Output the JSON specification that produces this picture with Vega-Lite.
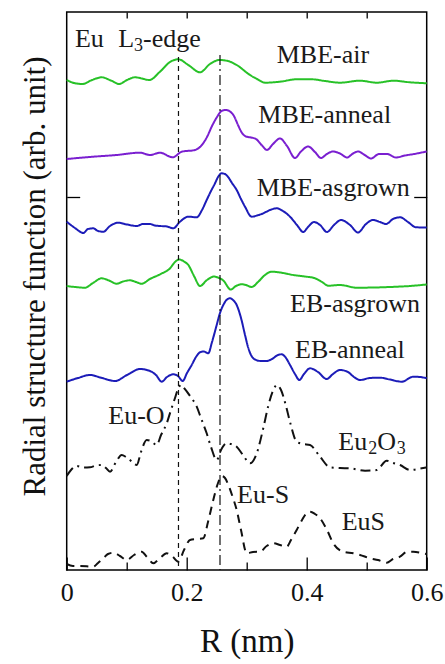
{
  "$schema": "https://vega.github.io/schema/vega-lite/v6.json",
  "width": 360,
  "height": 558,
  "autosize": {"type": "none"},
  "padding": {"left": 66.7, "top": 12, "right": 18.3, "bottom": 94},
  "background": "white",
  "config": {
    "view": {"stroke": "black", "strokeWidth": 1.5},
    "axis": {"grid": false, "domain": false, "tickColor": "black", "tickWidth": 1.3, "labelFont": "Liberation Serif, Tinos, Nimbus Roman, FreeSerif, DejaVu Serif, Noto Serif, serif", "titleFont": "Liberation Serif, Tinos, Nimbus Roman, FreeSerif, DejaVu Serif, Noto Serif, serif", "labelColor": "#111", "titleColor": "#111", "titleFontWeight": "normal"}
  },
  "datasets": {
    "curves": [
      {"s":"MBE-air","R":0,"v":490},{"s":"MBE-air","R":0.0122,"v":487},{"s":"MBE-air","R":0.0267,"v":486},{"s":"MBE-air","R":0.0422,"v":490},{"s":"MBE-air","R":0.0583,"v":492.7},{"s":"MBE-air","R":0.0738,"v":489.5},{"s":"MBE-air","R":0.0877,"v":486},{"s":"MBE-air","R":0.1005,"v":490},{"s":"MBE-air","R":0.1138,"v":492.7},{"s":"MBE-air","R":0.1255,"v":491.5},{"s":"MBE-air","R":0.1377,"v":490},{"s":"MBE-air","R":0.1555,"v":498.3},{"s":"MBE-air","R":0.1722,"v":508},{"s":"MBE-air","R":0.186,"v":510.7},{"s":"MBE-air","R":0.2027,"v":505},{"s":"MBE-air","R":0.2222,"v":497.7},{"s":"MBE-air","R":0.2388,"v":506},{"s":"MBE-air","R":0.2543,"v":510},{"s":"MBE-air","R":0.2688,"v":509},{"s":"MBE-air","R":0.2833,"v":505},{"s":"MBE-air","R":0.3055,"v":495},{"s":"MBE-air","R":0.3172,"v":491},{"s":"MBE-air","R":0.3305,"v":487.3},{"s":"MBE-air","R":0.3555,"v":488.3},{"s":"MBE-air","R":0.3833,"v":490.7},{"s":"MBE-air","R":0.4083,"v":490.7},{"s":"MBE-air","R":0.4305,"v":489},{"s":"MBE-air","R":0.4555,"v":487.3},{"s":"MBE-air","R":0.4888,"v":489.3},{"s":"MBE-air","R":0.5167,"v":487.3},{"s":"MBE-air","R":0.5443,"v":489.3},{"s":"MBE-air","R":0.5722,"v":487.7},{"s":"MBE-air","R":0.6,"v":486.7},

      {"s":"MBE-anneal","R":0,"v":411},{"s":"MBE-anneal","R":0.0443,"v":413.3},{"s":"MBE-anneal","R":0.0833,"v":415},{"s":"MBE-anneal","R":0.1222,"v":417.3},{"s":"MBE-anneal","R":0.1388,"v":415},{"s":"MBE-anneal","R":0.1555,"v":417.3},{"s":"MBE-anneal","R":0.1767,"v":412.7},{"s":"MBE-anneal","R":0.1917,"v":418.3},{"s":"MBE-anneal","R":0.2138,"v":420},{"s":"MBE-anneal","R":0.2238,"v":424},{"s":"MBE-anneal","R":0.2338,"v":433},{"s":"MBE-anneal","R":0.2422,"v":444},{"s":"MBE-anneal","R":0.2505,"v":453},{"s":"MBE-anneal","R":0.258,"v":459},{"s":"MBE-anneal","R":0.2655,"v":460},{"s":"MBE-anneal","R":0.2722,"v":458.5},{"s":"MBE-anneal","R":0.2788,"v":454},{"s":"MBE-anneal","R":0.2855,"v":445},{"s":"MBE-anneal","R":0.2922,"v":437},{"s":"MBE-anneal","R":0.2988,"v":433.5},{"s":"MBE-anneal","R":0.3072,"v":432.5},{"s":"MBE-anneal","R":0.3155,"v":431},{"s":"MBE-anneal","R":0.3255,"v":424.5},{"s":"MBE-anneal","R":0.3338,"v":420},{"s":"MBE-anneal","R":0.3438,"v":426},{"s":"MBE-anneal","R":0.3555,"v":431.5},{"s":"MBE-anneal","R":0.3672,"v":424},{"s":"MBE-anneal","R":0.3805,"v":412},{"s":"MBE-anneal","R":0.3905,"v":418.5},{"s":"MBE-anneal","R":0.4022,"v":423.5},{"s":"MBE-anneal","R":0.4138,"v":418},{"s":"MBE-anneal","R":0.4238,"v":412},{"s":"MBE-anneal","R":0.4338,"v":416},{"s":"MBE-anneal","R":0.4438,"v":418.5},{"s":"MBE-anneal","R":0.4555,"v":416.5},{"s":"MBE-anneal","R":0.4672,"v":412.5},{"s":"MBE-anneal","R":0.4772,"v":416.5},{"s":"MBE-anneal","R":0.4855,"v":418.5},{"s":"MBE-anneal","R":0.4955,"v":415.5},{"s":"MBE-anneal","R":0.5072,"v":411.5},{"s":"MBE-anneal","R":0.5205,"v":416},{"s":"MBE-anneal","R":0.5338,"v":416},{"s":"MBE-anneal","R":0.5488,"v":412.5},{"s":"MBE-anneal","R":0.5638,"v":414.5},{"s":"MBE-anneal","R":0.5788,"v":416},{"s":"MBE-anneal","R":0.6,"v":418.5},

      {"s":"MBE-asgrown","R":0,"v":348.3},{"s":"MBE-asgrown","R":0.0138,"v":342},{"s":"MBE-asgrown","R":0.0277,"v":337},{"s":"MBE-asgrown","R":0.0355,"v":341},{"s":"MBE-asgrown","R":0.0443,"v":341.7},{"s":"MBE-asgrown","R":0.0522,"v":339},{"s":"MBE-asgrown","R":0.061,"v":338.3},{"s":"MBE-asgrown","R":0.0722,"v":344},{"s":"MBE-asgrown","R":0.086,"v":347.3},{"s":"MBE-asgrown","R":0.1005,"v":345.5},{"s":"MBE-asgrown","R":0.1167,"v":344},{"s":"MBE-asgrown","R":0.1272,"v":346},{"s":"MBE-asgrown","R":0.1388,"v":346},{"s":"MBE-asgrown","R":0.1472,"v":344.5},{"s":"MBE-asgrown","R":0.1555,"v":344},{"s":"MBE-asgrown","R":0.1672,"v":343.5},{"s":"MBE-asgrown","R":0.1777,"v":341.7},{"s":"MBE-asgrown","R":0.1888,"v":348.3},{"s":"MBE-asgrown","R":0.2027,"v":353.3},{"s":"MBE-asgrown","R":0.2167,"v":352.7},{"s":"MBE-asgrown","R":0.2255,"v":360},{"s":"MBE-asgrown","R":0.2333,"v":370},{"s":"MBE-asgrown","R":0.2405,"v":379},{"s":"MBE-asgrown","R":0.2472,"v":386.7},{"s":"MBE-asgrown","R":0.2522,"v":393},{"s":"MBE-asgrown","R":0.2583,"v":396.7},{"s":"MBE-asgrown","R":0.2638,"v":396},{"s":"MBE-asgrown","R":0.2693,"v":392.7},{"s":"MBE-asgrown","R":0.2755,"v":387},{"s":"MBE-asgrown","R":0.2833,"v":380},{"s":"MBE-asgrown","R":0.2905,"v":371},{"s":"MBE-asgrown","R":0.2972,"v":363.3},{"s":"MBE-asgrown","R":0.3083,"v":353.3},{"s":"MBE-asgrown","R":0.3172,"v":354.5},{"s":"MBE-asgrown","R":0.3277,"v":356.7},{"s":"MBE-asgrown","R":0.3388,"v":360},{"s":"MBE-asgrown","R":0.35,"v":361.7},{"s":"MBE-asgrown","R":0.3605,"v":359},{"s":"MBE-asgrown","R":0.3722,"v":353.3},{"s":"MBE-asgrown","R":0.3838,"v":345},{"s":"MBE-asgrown","R":0.3943,"v":338},{"s":"MBE-asgrown","R":0.4022,"v":343},{"s":"MBE-asgrown","R":0.4122,"v":348},{"s":"MBE-asgrown","R":0.4222,"v":345},{"s":"MBE-asgrown","R":0.4338,"v":338},{"s":"MBE-asgrown","R":0.4455,"v":345},{"s":"MBE-asgrown","R":0.4572,"v":350},{"s":"MBE-asgrown","R":0.4722,"v":345},{"s":"MBE-asgrown","R":0.4855,"v":337.5},{"s":"MBE-asgrown","R":0.4988,"v":346},{"s":"MBE-asgrown","R":0.5105,"v":350},{"s":"MBE-asgrown","R":0.5222,"v":348},{"s":"MBE-asgrown","R":0.5322,"v":346},{"s":"MBE-asgrown","R":0.5438,"v":351},{"s":"MBE-asgrown","R":0.5555,"v":352.7},{"s":"MBE-asgrown","R":0.5688,"v":348},{"s":"MBE-asgrown","R":0.5822,"v":342.7},{"s":"MBE-asgrown","R":0.6,"v":342.5},

      {"s":"EB-asgrown","R":0,"v":284},{"s":"EB-asgrown","R":0.0138,"v":283},{"s":"EB-asgrown","R":0.0305,"v":282.3},{"s":"EB-asgrown","R":0.0438,"v":287},{"s":"EB-asgrown","R":0.0583,"v":291.7},{"s":"EB-asgrown","R":0.0705,"v":289.5},{"s":"EB-asgrown","R":0.0833,"v":286.3},{"s":"EB-asgrown","R":0.0938,"v":288.5},{"s":"EB-asgrown","R":0.1055,"v":289.7},{"s":"EB-asgrown","R":0.1155,"v":288},{"s":"EB-asgrown","R":0.125,"v":286.3},{"s":"EB-asgrown","R":0.1388,"v":291},{"s":"EB-asgrown","R":0.1555,"v":295.7},{"s":"EB-asgrown","R":0.1722,"v":301.7},{"s":"EB-asgrown","R":0.1805,"v":308},{"s":"EB-asgrown","R":0.1877,"v":310.5},{"s":"EB-asgrown","R":0.1955,"v":308.5},{"s":"EB-asgrown","R":0.2027,"v":305},{"s":"EB-asgrown","R":0.2122,"v":294},{"s":"EB-asgrown","R":0.2222,"v":284},{"s":"EB-asgrown","R":0.2338,"v":290},{"s":"EB-asgrown","R":0.2455,"v":293.5},{"s":"EB-asgrown","R":0.2538,"v":292},{"s":"EB-asgrown","R":0.261,"v":289.5},{"s":"EB-asgrown","R":0.2733,"v":280.5},{"s":"EB-asgrown","R":0.2822,"v":284},{"s":"EB-asgrown","R":0.2917,"v":285.7},{"s":"EB-asgrown","R":0.2988,"v":285},{"s":"EB-asgrown","R":0.3083,"v":283},{"s":"EB-asgrown","R":0.3188,"v":288},{"s":"EB-asgrown","R":0.3305,"v":295},{"s":"EB-asgrown","R":0.3417,"v":298.3},{"s":"EB-asgrown","R":0.3555,"v":297.5},{"s":"EB-asgrown","R":0.3777,"v":295},{"s":"EB-asgrown","R":0.3972,"v":293.5},{"s":"EB-asgrown","R":0.4138,"v":291.7},{"s":"EB-asgrown","R":0.4255,"v":288},{"s":"EB-asgrown","R":0.436,"v":284.3},{"s":"EB-asgrown","R":0.4555,"v":285},{"s":"EB-asgrown","R":0.4833,"v":282.3},{"s":"EB-asgrown","R":0.5138,"v":282.5},{"s":"EB-asgrown","R":0.5388,"v":283},{"s":"EB-asgrown","R":0.5722,"v":284},{"s":"EB-asgrown","R":0.6,"v":285.5},

      {"s":"EB-anneal","R":0,"v":188.3},{"s":"EB-anneal","R":0.0188,"v":192},{"s":"EB-anneal","R":0.0388,"v":195},{"s":"EB-anneal","R":0.0588,"v":192},{"s":"EB-anneal","R":0.0805,"v":189},{"s":"EB-anneal","R":0.1005,"v":195},{"s":"EB-anneal","R":0.1222,"v":201},{"s":"EB-anneal","R":0.1388,"v":199},{"s":"EB-anneal","R":0.1488,"v":195},{"s":"EB-anneal","R":0.1583,"v":188.3},{"s":"EB-anneal","R":0.1672,"v":193},{"s":"EB-anneal","R":0.1777,"v":195.7},{"s":"EB-anneal","R":0.1855,"v":194},{"s":"EB-anneal","R":0.1933,"v":189},{"s":"EB-anneal","R":0.2005,"v":197},{"s":"EB-anneal","R":0.2083,"v":205},{"s":"EB-anneal","R":0.2155,"v":213},{"s":"EB-anneal","R":0.2222,"v":217.7},{"s":"EB-anneal","R":0.2288,"v":218.5},{"s":"EB-anneal","R":0.236,"v":216.7},{"s":"EB-anneal","R":0.2422,"v":228},{"s":"EB-anneal","R":0.25,"v":245},{"s":"EB-anneal","R":0.2555,"v":257},{"s":"EB-anneal","R":0.261,"v":265},{"s":"EB-anneal","R":0.2672,"v":270.5},{"s":"EB-anneal","R":0.2722,"v":271.7},{"s":"EB-anneal","R":0.2772,"v":270},{"s":"EB-anneal","R":0.2833,"v":265},{"s":"EB-anneal","R":0.2905,"v":252},{"s":"EB-anneal","R":0.2972,"v":235},{"s":"EB-anneal","R":0.3022,"v":223},{"s":"EB-anneal","R":0.3072,"v":215},{"s":"EB-anneal","R":0.3138,"v":210.5},{"s":"EB-anneal","R":0.3238,"v":209},{"s":"EB-anneal","R":0.3333,"v":209},{"s":"EB-anneal","R":0.3422,"v":211},{"s":"EB-anneal","R":0.3522,"v":215},{"s":"EB-anneal","R":0.3583,"v":215.7},{"s":"EB-anneal","R":0.3655,"v":212},{"s":"EB-anneal","R":0.3722,"v":205},{"s":"EB-anneal","R":0.3805,"v":196},{"s":"EB-anneal","R":0.3877,"v":190},{"s":"EB-anneal","R":0.3955,"v":196},{"s":"EB-anneal","R":0.4055,"v":201.7},{"s":"EB-anneal","R":0.4188,"v":198},{"s":"EB-anneal","R":0.4333,"v":191},{"s":"EB-anneal","R":0.4438,"v":196},{"s":"EB-anneal","R":0.4555,"v":200},{"s":"EB-anneal","R":0.4688,"v":198},{"s":"EB-anneal","R":0.4788,"v":193},{"s":"EB-anneal","R":0.4888,"v":190},{"s":"EB-anneal","R":0.5055,"v":192},{"s":"EB-anneal","R":0.5222,"v":192.3},{"s":"EB-anneal","R":0.5388,"v":190.5},{"s":"EB-anneal","R":0.5583,"v":188.3},{"s":"EB-anneal","R":0.5777,"v":193.3},{"s":"EB-anneal","R":0.5888,"v":193},{"s":"EB-anneal","R":0.6,"v":191.7},

      {"s":"Eu2O3","R":0,"v":94},{"s":"Eu2O3","R":0.0072,"v":100},{"s":"Eu2O3","R":0.0167,"v":104},{"s":"Eu2O3","R":0.0272,"v":102.5},{"s":"Eu2O3","R":0.0388,"v":102.7},{"s":"Eu2O3","R":0.0488,"v":104.5},{"s":"Eu2O3","R":0.0583,"v":105},{"s":"Eu2O3","R":0.0655,"v":102},{"s":"Eu2O3","R":0.0722,"v":98.3},{"s":"Eu2O3","R":0.0822,"v":108},{"s":"Eu2O3","R":0.0917,"v":115},{"s":"Eu2O3","R":0.0988,"v":113},{"s":"Eu2O3","R":0.1055,"v":110},{"s":"Eu2O3","R":0.1105,"v":107},{"s":"Eu2O3","R":0.1167,"v":105},{"s":"Eu2O3","R":0.1238,"v":118},{"s":"Eu2O3","R":0.1333,"v":130},{"s":"Eu2O3","R":0.1405,"v":129},{"s":"Eu2O3","R":0.15,"v":125},{"s":"Eu2O3","R":0.1572,"v":135},{"s":"Eu2O3","R":0.1667,"v":146.7},{"s":"Eu2O3","R":0.1738,"v":160},{"s":"Eu2O3","R":0.1805,"v":172},{"s":"Eu2O3","R":0.1855,"v":181},{"s":"Eu2O3","R":0.1905,"v":185},{"s":"Eu2O3","R":0.1955,"v":182},{"s":"Eu2O3","R":0.2055,"v":174},{"s":"Eu2O3","R":0.2167,"v":163.3},{"s":"Eu2O3","R":0.2238,"v":152},{"s":"Eu2O3","R":0.2333,"v":136.7},{"s":"Eu2O3","R":0.2405,"v":123},{"s":"Eu2O3","R":0.25,"v":110},{"s":"Eu2O3","R":0.2572,"v":120},{"s":"Eu2O3","R":0.2667,"v":126.7},{"s":"Eu2O3","R":0.2738,"v":126},{"s":"Eu2O3","R":0.2833,"v":123.3},{"s":"Eu2O3","R":0.2938,"v":115},{"s":"Eu2O3","R":0.3055,"v":106.7},{"s":"Eu2O3","R":0.3167,"v":116.7},{"s":"Eu2O3","R":0.3277,"v":142},{"s":"Eu2O3","R":0.3355,"v":163},{"s":"Eu2O3","R":0.3443,"v":180},{"s":"Eu2O3","R":0.3505,"v":185},{"s":"Eu2O3","R":0.3572,"v":180},{"s":"Eu2O3","R":0.3655,"v":164},{"s":"Eu2O3","R":0.3722,"v":148},{"s":"Eu2O3","R":0.3833,"v":128.3},{"s":"Eu2O3","R":0.3938,"v":126},{"s":"Eu2O3","R":0.4055,"v":125},{"s":"Eu2O3","R":0.4222,"v":113.3},{"s":"Eu2O3","R":0.4388,"v":102.7},{"s":"Eu2O3","R":0.4555,"v":102},{"s":"Eu2O3","R":0.4722,"v":101.7},{"s":"Eu2O3","R":0.4972,"v":99.3},{"s":"Eu2O3","R":0.5167,"v":100},{"s":"Eu2O3","R":0.5333,"v":109.3},{"s":"Eu2O3","R":0.5438,"v":107},{"s":"Eu2O3","R":0.5555,"v":105},{"s":"Eu2O3","R":0.5722,"v":100},{"s":"Eu2O3","R":0.5917,"v":101.7},{"s":"Eu2O3","R":0.6,"v":102.5},

      {"s":"EuS","R":0,"v":6},{"s":"EuS","R":0.0105,"v":4},{"s":"EuS","R":0.0222,"v":4},{"s":"EuS","R":0.0443,"v":3.3},{"s":"EuS","R":0.0522,"v":7},{"s":"EuS","R":0.061,"v":11.7},{"s":"EuS","R":0.0688,"v":16},{"s":"EuS","R":0.0777,"v":17.3},{"s":"EuS","R":0.0888,"v":14},{"s":"EuS","R":0.1,"v":10},{"s":"EuS","R":0.1122,"v":15},{"s":"EuS","R":0.125,"v":18.3},{"s":"EuS","R":0.1338,"v":13},{"s":"EuS","R":0.1443,"v":6.7},{"s":"EuS","R":0.1555,"v":12},{"s":"EuS","R":0.1667,"v":16.7},{"s":"EuS","R":0.1755,"v":14},{"s":"EuS","R":0.186,"v":8.3},{"s":"EuS","R":0.1955,"v":20},{"s":"EuS","R":0.2055,"v":30},{"s":"EuS","R":0.2172,"v":31},{"s":"EuS","R":0.2277,"v":31.7},{"s":"EuS","R":0.2355,"v":48},{"s":"EuS","R":0.2443,"v":70},{"s":"EuS","R":0.2522,"v":87},{"s":"EuS","R":0.2583,"v":94},{"s":"EuS","R":0.2638,"v":92},{"s":"EuS","R":0.2688,"v":86},{"s":"EuS","R":0.2755,"v":75},{"s":"EuS","R":0.2833,"v":60},{"s":"EuS","R":0.2905,"v":40},{"s":"EuS","R":0.3,"v":16.7},{"s":"EuS","R":0.3105,"v":18},{"s":"EuS","R":0.3222,"v":18.3},{"s":"EuS","R":0.3333,"v":24},{"s":"EuS","R":0.3443,"v":26.7},{"s":"EuS","R":0.3555,"v":25},{"s":"EuS","R":0.3667,"v":23.3},{"s":"EuS","R":0.3738,"v":30},{"s":"EuS","R":0.3833,"v":40},{"s":"EuS","R":0.3922,"v":50},{"s":"EuS","R":0.3988,"v":56},{"s":"EuS","R":0.4055,"v":58.3},{"s":"EuS","R":0.4138,"v":56},{"s":"EuS","R":0.4222,"v":51.7},{"s":"EuS","R":0.4338,"v":40},{"s":"EuS","R":0.4443,"v":26.7},{"s":"EuS","R":0.461,"v":18.3},{"s":"EuS","R":0.4777,"v":16.7},{"s":"EuS","R":0.4888,"v":15},{"s":"EuS","R":0.5055,"v":11.7},{"s":"EuS","R":0.5188,"v":10},{"s":"EuS","R":0.5333,"v":7.3},{"s":"EuS","R":0.5438,"v":11},{"s":"EuS","R":0.5555,"v":13.3},{"s":"EuS","R":0.5667,"v":18},{"s":"EuS","R":0.5777,"v":18.3},{"s":"EuS","R":0.5943,"v":16.7},{"s":"EuS","R":0.6,"v":16}
    ],
    "vlineO": [{"R":0.1863,"top":513,"bot":0}],
    "vlineS": [{"R":0.2555,"top":515,"bot":0}],
    "labels": [
      {"t":"Eu","R":0.0138,"v":523},{"t":"L","R":0.086,"v":523},{"t":"-edge","R":0.1272,"v":523},
      {"t":"MBE-air","R":0.35,"v":506.7},
      {"t":"MBE-anneal","R":0.3193,"v":446.7},
      {"t":"MBE-asgrown","R":0.3167,"v":374},
      {"t":"EB-asgrown","R":0.3722,"v":257.7},
      {"t":"EB-anneal","R":0.3805,"v":211.7},
      {"t":"Eu-O","R":0.0693,"v":146},
      {"t":"Eu","R":0.4527,"v":120},{"t":"O","R":0.5177,"v":120},
      {"t":"Eu-S","R":0.284,"v":67},
      {"t":"EuS","R":0.4583,"v":40}
    ],
    "subs": [
      {"t":"3","R":0.1122,"v":519.5},
      {"t":"2","R":0.5027,"v":116},
      {"t":"3","R":0.5502,"v":116}
    ]
  },
  "resolve": {"axis": {"x": "independent", "y": "independent"}},
  "layer": [
    {
      "data": {"name": "curves"},
      "mark": {"type": "line", "strokeWidth": 2, "interpolate": "monotone"},
      "encoding": {
        "x": {"field": "R", "type": "quantitative", "scale": {"domain": [0, 0.6], "nice": false, "zero": false},
          "axis": {"orient": "bottom", "values": [0, 0.1, 0.2, 0.3, 0.4, 0.5, 0.6], "title": "R (nm)", "titleFontSize": 33, "titlePadding": 15,
            "labelFontSize": 26, "labelPadding": 22, "labelFlush": false, "labelOverlap": false,
            "tickSize": {"condition": {"test": "round(datum.value*10)%2==0", "value": -13}, "value": -8},
            "labelExpr": "round(datum.value*10)%2==0 ? (datum.value==0 ? '0' : format(datum.value,'.1f')) : ''"}},
        "y": {"field": "v", "type": "quantitative", "scale": {"domain": [0, 558], "nice": false, "zero": false},
          "axis": {"orient": "left", "values": [373], "labels": false, "tickSize": -13, "title": "Radial structure function (arb. unit)", "titleFontSize": 31, "titlePadding": 15, "titleY": 264}},
        "color": {"field": "s", "type": "nominal", "legend": null,
          "scale": {"domain": ["MBE-air","MBE-anneal","MBE-asgrown","EB-asgrown","EB-anneal","Eu2O3","EuS"],
                    "range": ["#27c127","#7a1fd0","#1c1cb8","#27c127","#1c1cb8","#111111","#111111"]}},
        "strokeDash": {"field": "s", "type": "nominal", "legend": null,
          "scale": {"domain": ["MBE-air","MBE-anneal","MBE-asgrown","EB-asgrown","EB-anneal","Eu2O3","EuS"],
                    "range": [[1,0],[1,0],[1,0],[1,0],[1,0],[10,5,2,5],[8,6]]}}
      }
    },
    {
      "data": {"name": "vlineO"},
      "mark": {"type": "rule", "strokeWidth": 1.2, "color": "#111", "strokeDash": [5, 4]},
      "encoding": {
        "x": {"field": "R", "type": "quantitative", "scale": {"domain": [0, 0.6], "nice": false, "zero": false},
          "axis": {"orient": "top", "values": [0.1, 0.2, 0.3, 0.4, 0.5], "labels": false, "title": null, "tickSize": -6}},
        "y": {"field": "top", "type": "quantitative", "scale": {"domain": [0, 558], "nice": false, "zero": false},
          "axis": {"orient": "right", "values": [373], "labels": false, "title": null, "tickSize": -13}},
        "y2": {"field": "bot"}
      }
    },
    {
      "data": {"name": "vlineS"},
      "mark": {"type": "rule", "strokeWidth": 1.2, "color": "#111", "strokeDash": [10, 4, 2, 4]},
      "encoding": {
        "x": {"field": "R", "type": "quantitative", "axis": null},
        "y": {"field": "top", "type": "quantitative", "axis": null},
        "y2": {"field": "bot"}
      }
    },
    {
      "data": {"name": "labels"},
      "mark": {"type": "text", "font": "Liberation Serif, Tinos, Nimbus Roman, FreeSerif, DejaVu Serif, Noto Serif, serif", "fontSize": 26, "align": "left", "baseline": "alphabetic", "color": "#1a1a1a"},
      "encoding": {
        "x": {"field": "R", "type": "quantitative", "axis": null},
        "y": {"field": "v", "type": "quantitative", "axis": null},
        "text": {"field": "t"}
      }
    },
    {
      "data": {"name": "subs"},
      "mark": {"type": "text", "font": "Liberation Serif, Tinos, Nimbus Roman, FreeSerif, DejaVu Serif, Noto Serif, serif", "fontSize": 18, "align": "left", "baseline": "alphabetic", "color": "#1a1a1a"},
      "encoding": {
        "x": {"field": "R", "type": "quantitative", "axis": null},
        "y": {"field": "v", "type": "quantitative", "axis": null},
        "text": {"field": "t"}
      }
    }
  ]
}
